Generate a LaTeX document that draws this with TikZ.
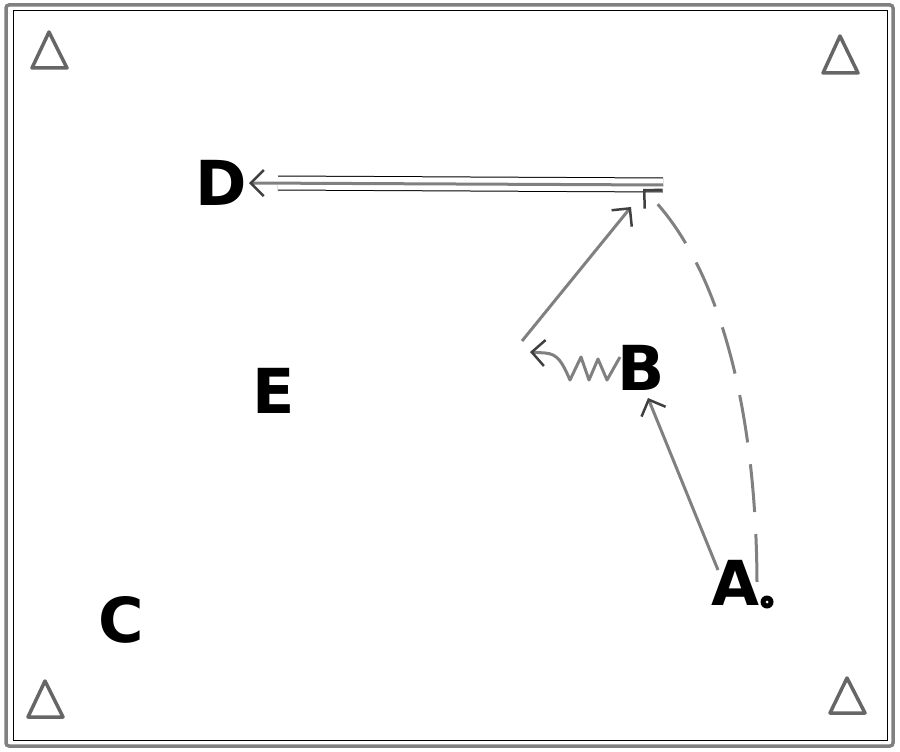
\documentclass[tikz,border=0pt]{standalone}
\usepackage{fontspec}
\setmainfont{DejaVu Sans}
\usetikzlibrary{arrows.meta}
\begin{document}
\begin{tikzpicture}[x=1pt,y=-1pt,
  lbl/.style={font=\fontsize{62}{62}\selectfont\bfseries, inner sep=0pt},
  tri/.style={draw=gray!80!black, line width=3.5pt, line join=round},
  conn/.style={draw=gray, line width=3pt, line join=round},
  tipd/.style={-{Straight Barb[length=13pt,width=26pt,line width=2.5pt,gray!50!black]}},
  dashd/.style={draw=gray, line width=3pt, dash pattern=on 48pt off 22pt}]
\useasboundingbox (0,0) rectangle (900,752);
% frame
\draw[gray, line width=3.5pt, rounded corners=3pt] (6,5) rectangle (893,746);
\draw[black, line width=1pt] (13,11) rectangle (887,740);
% corner triangles
\draw[tri] (49,32) -- (32,68) -- (67,68) -- cycle;
\draw[tri] (840,36) -- (823,73) -- (858,73) -- cycle;
\draw[tri] (45,681) -- (28,717) -- (63,717) -- cycle;
\draw[tri] (847,678) -- (830,713) -- (865,713) -- cycle;
% labels
\node[lbl] (D) at (221,183) {D};
\node[lbl] (B) at (641,368) {B};
\node[lbl] (E) at (274,391) {E};
\node[lbl] (C) at (121,620) {C};
\node[lbl] (A) at (735,583) {A};
\fill[black] (767,602) circle (6.5pt);
\fill[white] (767,602) circle (1.5pt);
% helper coordinates
\coordinate (P) at (663,185);
\coordinate (Pd) at (278,183);
\coordinate (Dt) at (249,183);
\coordinate (Q) at (643,189);
\coordinate (S) at (757,582);
\coordinate (Z) at (530,352);
\coordinate (Bw) at (620,357);
\coordinate (Z2) at (522,341);
\coordinate (R) at (631,207);
\coordinate (Ab) at (718,570);
\coordinate (Bs) at (648,398);
% D arrow (double band)
\draw[black, line width=1pt, double=white, double distance=13pt] (P) -- (Pd);
\draw[conn, tipd] (P) -- (Dt);
% diagonal arrow
\draw[conn, tipd] (Z2) -- (R);
% A to B
\draw[conn, tipd] (Ab) -- (Bs);
% zigzag B to Z
\draw[conn, tipd] (Bw) -- (607,380) -- (598,359) -- (589,380) -- (581,357) -- (570,380)
  .. controls (562,362) and (558,354) .. (545,353) -- (Z);
% dashed curve
\draw[dashd, tipd] (S) .. controls (756,390) and (712,255) .. (Q);
\end{tikzpicture}
\end{document}
